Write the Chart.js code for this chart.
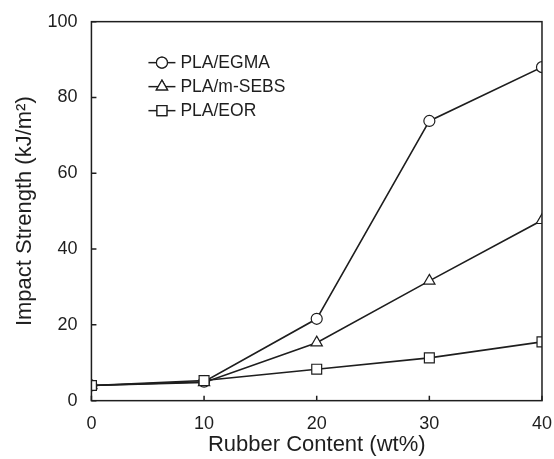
<!DOCTYPE html>
<html>
<head>
<meta charset="utf-8">
<script src="https://cdn.jsdelivr.net/npm/chart.js@4.4.0/dist/chart.umd.min.js"></script>
<style>
  html, body { margin: 0; padding: 0; background: #fff; }
  #wrap { width: 554px; height: 459px; position: relative; }
</style>
</head>
<body>
<div id="wrap"><canvas id="impactChart"></canvas></div>
<script>
// rubber content (wt%)
const rubberContent = [0, 10, 20, 30, 40];
const egma = [4.0, 5.0, 21.6, 73.8, 88.0];
const mSebs = [4.0, 4.8, 15.3, 31.6, 47.6];
const eor = [4.0, 5.3, 8.3, 11.3, 15.5];
const xTicks = [0, 10, 20, 30, 40];
const yTicks = [0, 20, 40, 60, 80, 100];

const seriesNames = ['PLA/EGMA', 'PLA/m-SEBS', 'PLA/EOR'];
const seriesMarkers = ['circle', 'triangle', 'rect'];
const seriesRadius = [5.5, 6.5, 7];

const FONT = '"Liberation Sans", Arial, sans-serif';
const INK = '#1e1e1e';

function toPoints(ys) {
    return rubberContent.map((x, i) => ({ x: x, y: ys[i] }));
}

// frame, inward ticks and legend
const framePlugin = {
    id: 'frame',
    afterDraw(chart) {
        const ctx = chart.ctx;
        const a = chart.chartArea;
        const xs = chart.scales.x, ys = chart.scales.y;
        ctx.save();
        ctx.strokeStyle = INK;
        ctx.lineWidth = 1.5;
        ctx.strokeRect(a.left, a.top, a.right - a.left, a.bottom - a.top);
        ctx.beginPath();
        yTicks.forEach(v => {
            const py = ys.getPixelForValue(v);
            ctx.moveTo(a.left, py);
            ctx.lineTo(a.left + 5, py);
        });
        xTicks.forEach(v => {
            const px = xs.getPixelForValue(v);
            ctx.moveTo(px, a.bottom);
            ctx.lineTo(px, a.bottom - 5);
        });
        ctx.stroke();

        // legend
        const lx = a.left + 57, ly0 = a.top + 41, dy = 24;
        ctx.font = '17.5px ' + FONT;
        ctx.textBaseline = 'middle';
        seriesNames.forEach((name, i) => {
            const y = ly0 + i * dy;
            ctx.lineWidth = 1.5;
            ctx.strokeStyle = INK;
            ctx.beginPath();
            ctx.moveTo(lx, y);
            ctx.lineTo(lx + 27, y);
            ctx.stroke();
            ctx.fillStyle = '#fff';
            ctx.lineWidth = 1.2;
            Chart.helpers.drawPoint(ctx, {
                pointStyle: seriesMarkers[i], radius: seriesRadius[i], rotation: 0, borderWidth: 1.2
            }, lx + 13.5, y);
            ctx.fill();
            ctx.stroke();
            ctx.fillStyle = INK;
            ctx.fillText(name, lx + 32, y + 1);
        });
        ctx.restore();
    }
};

const ds = [egma, mSebs, eor].map((vals, i) => ({
    label: seriesNames[i],
    data: toPoints(vals),
    borderColor: INK,
    borderWidth: 1.6,
    backgroundColor: '#fff',
    pointStyle: seriesMarkers[i],
    pointRadius: seriesRadius[i],
    pointBorderWidth: 1.2,
    pointBackgroundColor: '#fff',
    pointBorderColor: INK,
    tension: 0,
    fill: false,
    order: 3 - i
}));

new Chart(document.getElementById('impactChart').getContext('2d'), {
    type: 'line',
    data: { datasets: ds },
    options: {
        responsive: true,
        maintainAspectRatio: false,
        animation: false,
        layout: { padding: { top: 20, right: 2, left: 12, bottom: 1 } },
        scales: {
            x: {
                type: 'linear',
                min: 0, max: 40,
                afterBuildTicks: s => { s.ticks = xTicks.map(v => ({ value: v })); },
                grid: { display: false, drawTicks: false },
                border: { display: false },
                // tall line height pushes the labels down while keeping the right overhang small
                ticks: { color: INK, font: { size: 18, family: FONT, lineHeight: 2.33 }, padding: 2 },
                title: { display: true, text: 'Rubber Content (wt%)', color: INK,
                    font: { size: 22, family: FONT }, padding: { top: -15, bottom: 0 } }
            },
            y: {
                min: 0, max: 100,
                afterBuildTicks: s => { s.ticks = yTicks.map(v => ({ value: v })); },
                grid: { display: false, drawTicks: false },
                border: { display: false },
                ticks: { color: INK, font: { size: 18, family: FONT, lineHeight: 0.85 }, padding: 14 },
                title: { display: true, text: 'Impact Strength (kJ/m\u00B2)', color: INK,
                    font: { size: 22, family: FONT }, padding: { top: 0, bottom: -5 } }
            }
        },
        plugins: {
            legend: { display: false },
            tooltip: { enabled: false }
        }
    },
    plugins: [framePlugin]
});
</script>
</body>
</html>
